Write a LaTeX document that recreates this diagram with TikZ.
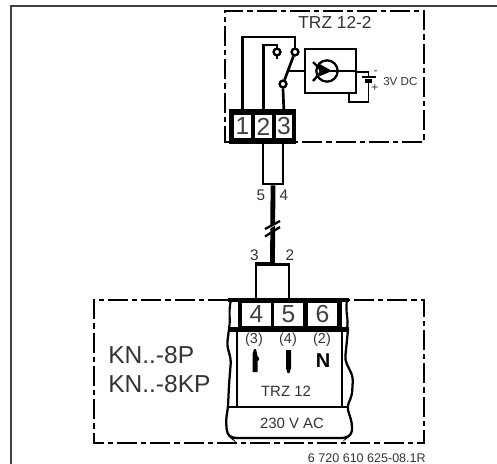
\documentclass[tikz,border=0pt]{standalone}
\usepackage{fontspec}
\setmainfont{Liberation Sans}
\tikzset{
  dashbox/.style={line width=1.9pt,dash pattern=on 15pt off 3pt on 4pt off 3pt},
  wire/.style={line width=2pt},
  thinwire/.style={line width=1.4pt},
  cellbox/.style={fill=white,inner sep=0pt,text=black!75,font=\fontsize{18.5}{20}\selectfont},
  contact/.style={circle,draw,line width=1.7pt,fill=white,minimum size=5pt,inner sep=0pt},
  txt/.style={inner sep=0pt,text=black!80},
  plug/.style={fill=black,draw=none}
}
\begin{document}
\begin{tikzpicture}[x=0.75pt,y=-0.75pt]
\useasboundingbox (0,0) rectangle (497,464);
% outer frame
\draw[line width=1.2pt,black!75] (497,6) -- (11,6) -- (11,464);
% upper dash-dot box
\draw[dashbox] (229,142) -- (225,142) -- (225,11) -- (424,11) -- (424,142) -- (296,142);
\node[txt,font=\fontsize{13}{15}\selectfont] (title) at (335,22) {TRZ 12-2};
% upper terminal block
\fill (229,109) rectangle (296,143.5);
\node[cellbox,minimum width=12.8pt,minimum height=17.3pt] (c1) at (242.5,126.5) {1};
\node[cellbox,minimum width=12.8pt,minimum height=17.3pt] (c2) at (263.5,126.5) {2};
\node[cellbox,minimum width=12.2pt,minimum height=17.3pt] (c3) at (284,126.5) {3};
% contacts
\node[contact] (k1) at (277,52) {};
\node[contact] (k2) at (295,52) {};
\node[contact] (k3) at (283,84) {};
\coordinate (sw) at (289,71);
% unit
\node[draw,line width=1.5pt,minimum width=38.5pt,minimum height=33pt,inner sep=0pt] (unit) at (330.5,71) {};
\draw[wire] (c1.north) -- (242.5,37) -| (k2.north);
\draw[wire] (c2.north) -- (263.5,45) -| (k1.north);
\draw[wire] (c3.north) -- (k3.south);
\draw[wire] (k3) -- (k2);
\node[contact] at (k1) {};
\node[contact] at (k2) {};
\node[contact] at (k3) {};
\draw[wire] (k1.south) -- ++(0,3);
\draw[wire] (sw) -- (sw -| unit.west);
% symbol in the unit
\node[circle,draw,line width=1.7pt,minimum size=16pt,inner sep=0pt] (lamp) at (327,71) {};
\draw[line width=1.5pt] (lamp.center) -- (unit.east |- lamp.center);
\draw[line width=1.8pt] (313,62) -- (322,71) -- (313,81);
\fill (318,63) -- (332,71) -- (320,76) -- cycle;
% battery
\coordinate (batP) at (368.5,77);
\coordinate (batN) at (368.5,81);
\draw[thinwire] (unit.east |- 0,72) -- (368.5,72) -- (batP);
\draw[line width=1.4pt] (362,77) -- (376,77);
\draw[line width=2.4pt] (365,81) -- (372,81);
\draw[thinwire] (batN) -- (368.5,102) -- (349,102) -- (349,93);
\node[txt,font=\fontsize{9}{10}\selectfont] (bm) at (375.5,73) {-};
\node[txt,font=\fontsize{9}{10}\selectfont] (bp) at (375,88) {+};
\node[txt,anchor=west,font=\fontsize{8.7}{10}\selectfont] (vdc) at (383,82) {3V DC};
% cable
\node[draw,line width=2pt,minimum width=15pt,minimum height=31.5pt,inner sep=0pt] (cabT) at (273,163) {};
\node[draw,line width=1.6pt,minimum width=24.7pt,minimum height=26.2pt,inner sep=0pt] (cabB) at (272.5,282.5) {};
\draw[line width=3.6pt] (cabT.south) -- (cabB.north);
\draw[line width=2.8pt] (cabB.north west) -- ++(18,0);
\draw[line width=2pt] (cabB.north) -- (cabB.north east);
\draw[white,line width=1.6pt] (262,232) -- (284,219);
\draw[line width=1.7pt] (265,236.5) -- (280,227);
\draw[line width=1.7pt] (265,229) -- (280,221);
\node[txt,font=\fontsize{11.5}{13}\selectfont] (l5) at (261,195) {5};
\node[txt,font=\fontsize{11.5}{13}\selectfont] (l4) at (284,195) {4};
\node[txt,font=\fontsize{11.5}{13}\selectfont] (l3) at (254.5,255) {3};
\node[txt,font=\fontsize{11.5}{13}\selectfont] (l2) at (290,255) {2};
% lower dash-dot box
\draw[dashbox] (228,300) -- (94,300) -- (94,443) -- (424,443) -- (424,300) -- (348,300);
\node[txt,anchor=west,font=\fontsize{18.4}{20}\selectfont] (kn1) at (108,355) {KN..-8P};
\node[txt,anchor=west,font=\fontsize{18.4}{20}\selectfont] (kn2) at (108,384) {KN..-8KP};
% lower terminal block
\fill (228,298) rectangle (349,302);
\fill (228,326.5) rectangle (349,332);
\fill (238,300) rectangle (342,330);
\node[cellbox,minimum width=21.8pt,minimum height=17.5pt] (c4) at (256.5,314.5) {4};
\node[cellbox,minimum width=21.8pt,minimum height=17.5pt] (c5) at (288.5,314.5) {5};
\node[cellbox,minimum width=21.8pt,minimum height=17.5pt] (c6) at (322.5,314.5) {6};
% inner panel
\draw[line width=1.8pt] (237,331) -- (237,407) (342,331) -- (342,407);
\draw[line width=1.6pt] (228,407) -- (347,407);
\draw[line width=1.6pt] (231,300) .. controls (228,312) and (231,320) .. (229,328);
\draw[line width=1.6pt] (347,300) .. controls (345,312) and (349,320) .. (347,328);
% wavy sides
\draw[line width=1.7pt,rounded corners=3pt] (229,329) -- (227,345) -- (231,360) -- (229,385) -- (228,407) -- (226,420) -- (227,434) -- (232,438) -- (346,438) -- (352,434) -- (352,423) -- (347,407) -- (352,395) -- (353,377) -- (345,360) -- (347,340) -- (348,329);
% plug symbols and texts
\node[txt,font=\fontsize{10.8}{12}\selectfont] (p3) at (254,340) {(3)};
\node[txt,font=\fontsize{10.8}{12}\selectfont] (p4) at (288,340) {(4)};
\node[txt,font=\fontsize{10.8}{12}\selectfont] (p2) at (322,340) {(2)};
\node[inner sep=0pt,font=\fontsize{15}{16}\bfseries\selectfont] (nn) at (323,361) {N};
\fill[plug] (254,349) -- (256,349) -- (257,354) -- (257.5,356) -- (259,358) -- (259,360) -- (257.5,361) -- (257.5,372) -- (252.5,372) -- (252.5,354) -- cycle;
\fill[plug] (286,350) -- (291,350) -- (291,368) -- (289.5,373) -- (287.5,373) -- (286,368) -- cycle;
\node[txt,font=\fontsize{11.2}{13}\selectfont] (trz) at (286,391) {TRZ 12};
\node[txt,font=\fontsize{11.2}{13}\selectfont] (ac) at (292,423) {230 V AC};
\node[txt,anchor=east,font=\fontsize{9.4}{11}\selectfont] (code) at (426,458) {6 720 610 625-08.1R};
\end{tikzpicture}
\end{document}
